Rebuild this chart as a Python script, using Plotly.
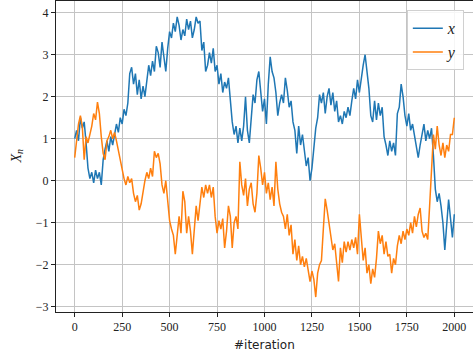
import plotly.graph_objects as go

# iteration index, one sample every 10 steps
iterations = list(range(0, 2001, 10))

# first component of the walk
x_values = [
    1.0, 1.2, 0.95, 1.5, 1.25, 1.4, 0.9, 0.3, 0.05, 0.2,
    -0.05, 0.25, 0.05, 0.2, -0.1, 0.5, 0.75, 0.95, 0.7, 1.05,
    0.85, 1.1, 1.35, 1.15, 1.5, 1.35, 1.7, 1.55, 1.85, 2.55,
    2.7, 2.3, 2.55, 2.05, 2.4, 1.95, 2.25, 2.0, 2.4, 2.75,
    2.5, 2.85, 2.6, 3.2, 3.05, 2.7, 3.3, 2.9, 2.6, 3.15,
    3.55, 3.4, 3.75, 3.55, 3.9, 3.7, 3.35, 3.6, 3.45, 3.85,
    3.6, 3.8, 3.4, 3.6, 3.9, 3.75, 3.8, 3.1, 3.3, 2.6,
    2.75, 3.05, 2.8, 3.15, 2.6, 2.75, 2.3, 2.55, 2.1, 2.35,
    2.2, 2.45, 1.85, 1.4, 1.1, 1.3, 0.9, 1.25, 0.95, 1.3,
    2.0, 1.2, 0.9, 1.6, 2.05, 1.85, 2.4, 2.6, 2.2, 1.65,
    1.95, 1.35, 2.3, 2.95, 2.6, 2.45, 2.1, 1.55, 1.85, 2.05,
    1.85, 2.45, 2.15, 1.75, 1.9, 1.4, 1.2, 0.65, 1.3, 0.85,
    1.1, 0.7, 0.35, 0.55, 0.0, 0.3, 0.85, 1.25, 1.5, 2.05,
    1.85, 2.1, 1.6, 2.0, 2.2, 1.8, 2.1, 1.65, 1.9, 1.4,
    1.55, 1.35, 1.65, 1.5, 1.75, 1.55, 1.9, 2.2, 1.95, 2.4,
    2.1, 2.5, 2.75, 3.0, 2.65, 2.2, 1.55, 1.4, 1.9, 1.45,
    1.85, 1.55, 1.75, 1.05, 0.85, 0.6, 0.95, 0.7, 0.9, 0.6,
    1.6, 1.75, 2.3, 2.0, 1.55, 1.3, 1.6, 1.2, 1.35, 1.05,
    0.75, 0.55, 0.85, 1.1, 1.35, 0.95, 1.2, 1.0, 1.25, 0.6,
    -0.2, -0.5, -0.3, -0.6, -1.0, -1.65, -1.1, -0.45, -0.9, -1.35,
    -0.8,
]

# second component of the walk
y_values = [
    0.55, 1.0, 1.35, 1.55, 1.3, 0.5, 1.05, 0.9, 1.1, 1.3,
    1.6, 1.45, 1.87, 1.6, 1.05, 0.65, 0.5, 0.95, 1.05, 1.2,
    1.0, 1.15, 0.95, 0.7, 0.55, 0.25, 0.05, -0.1, 0.1, -0.05,
    0.05, -0.3, -0.5, -0.35, -0.7, -0.55, -0.25, 0.0, 0.2, 0.05,
    0.3, 0.1, 0.7, 0.55, 0.65, 0.4, -0.1, -0.3, 0.0, -0.45,
    -0.95, -1.15, -1.3, -1.75, -1.2, -0.85, -1.25, -0.25, -0.5, -1.25,
    -0.85, -1.2, -1.75, -1.05, -0.6, -0.95, -0.45, -0.15, -0.4, -0.1,
    -0.3, -0.1, -0.4, -0.15, -0.85, -1.25, -0.95, -1.15, -0.9, -1.6,
    -1.2, -0.6, -0.85, -1.6, -1.0, -0.85, -1.15, 0.45, -0.1, -0.35,
    0.05, -0.6, -0.2, -0.05, -0.55, -0.75, -0.3, 0.6, 0.3, -0.1,
    0.2, -0.3, -0.05, -0.45, -0.15, -0.6, 0.45, -0.2, -0.55, -0.75,
    -0.85, -1.15, -0.8, -1.3, -1.05, -1.75, -1.4, -1.9, -1.55, -2.0,
    -1.8, -2.05, -1.85, -2.1, -2.4, -2.15, -2.35, -2.77, -2.2, -2.0,
    -1.9, -1.15, -0.43, -0.7, -1.05, -1.35, -1.65, -1.5, -2.0, -2.4,
    -1.6, -1.95, -1.45, -1.7, -1.45, -1.65, -1.4, -1.6, -1.35, -1.75,
    -0.8, -1.3, -1.9, -1.6, -2.2, -2.0, -2.45, -2.1, -2.3, -1.85,
    -1.2, -1.5, -1.3, -1.75, -1.45, -1.8, -1.75, -2.2, -1.85, -2.0,
    -1.55, -1.3, -1.5, -1.2, -1.4, -1.15, -1.3, -1.0, -1.25, -0.85,
    -1.1, -0.8, -0.65, -1.2, -1.35, -1.25, -1.4, -0.6, 0.3, 1.1,
    0.75, 1.3, 0.85, 0.6, 0.9, 0.55, 0.85, 0.7, 1.1, 1.1,
    1.5,
]

x_ticks = [0, 250, 500, 750, 1000, 1250, 1500, 1750, 2000]
y_ticks = [-3, -2, -1, 0, 1, 2, 3, 4]

fig = go.Figure()
fig.add_trace(go.Scatter(x=iterations, y=x_values, mode="lines", name="<i>x</i>",
                         line=dict(color="#1f77b4", width=1.5)))
fig.add_trace(go.Scatter(x=iterations, y=y_values, mode="lines", name="<i>y</i>",
                         line=dict(color="#ff7f0e", width=1.5)))

tick_font = dict(family="Liberation Serif", size=12, color="#222")
axis_common = dict(showgrid=True, gridcolor="#c4c4c4", gridwidth=1,
                   zeroline=False, showline=True, linecolor="#222", linewidth=1,
                   mirror=True, ticks="outside", ticklen=4, tickcolor="#222",
                   tickfont=tick_font)

fig.update_xaxes(range=[-98.5, 2098.5], tickvals=x_ticks, **axis_common)
fig.update_yaxes(range=[-3.126, 4.279], tickvals=y_ticks, **axis_common)

fig.update_layout(
    width=473, height=356,
    margin=dict(l=56, r=0, t=1, b=44),
    plot_bgcolor="white", paper_bgcolor="white",
    legend=dict(x=0.978, y=0.97, xanchor="right", yanchor="top",
                bgcolor="rgba(255,255,255,0.85)", bordercolor="#d0d0d0",
                borderwidth=1, font=dict(family="Liberation Serif", size=16, color="#222")),
    annotations=[
        dict(text="#iteration", xref="paper", yref="paper", x=0.5, y=-0.106,
             xanchor="center", yanchor="middle", showarrow=False,
             font=dict(family="DejaVu Sans", size=12, color="#222")),
        dict(text="<i>X</i><sub><i>n</i></sub>", xref="paper", yref="paper",
             x=-0.0935, y=0.5, xanchor="center", yanchor="middle",
             textangle=-90, showarrow=False,
             font=dict(family="Liberation Serif", size=14, color="#222")),
    ],
)

fig.write_html("out.html")
